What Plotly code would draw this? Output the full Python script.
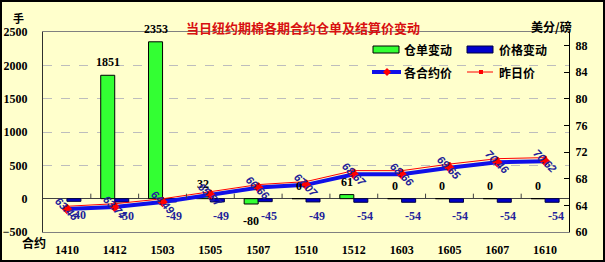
import plotly.graph_objects as go

contracts = ['1410', '1412', '1503', '1505', '1507', '1510', '1512', '1603', '1605', '1607', '1610']
warrant_change = [None, 1851, 2353, 32, -80, 0, 61, 0, 0, 0, 0]
price_change = [-40, -50, -49, -49, -45, -49, -54, -54, -54, -54, -54]
settle_price = [63.46, 63.74, 64.49, 65.57, 66.66, 67.07, 68.67, 68.66, 69.65, 70.46, 70.62]
prev_price = [63.86, 64.24, 64.98, 66.06, 67.11, 67.56, 69.21, 69.20, 70.19, 71.00, 71.16]
left_ticks = [-500, 0, 500, 1000, 1500, 2000, 2500]
right_ticks = [60, 64, 68, 72, 76, 80, 84, 88]

W, H = 605, 262
L, R, T, B = 43, 36, 32, 30
PW, PH = W - L - R, H - T - B


def px(x):
    return (x - L) / PW


def py(y):
    return (H - B - y) / PH


NUM = "Liberation Serif"
CJK = "Noto Sans CJK SC"
BG = "#FFFFCC"
GREEN = "#33FF33"
BLUE_BAR = "#0000CC"
BLUE_LINE = "#1010E8"
RED = "#FF0000"
LABEL_BLUE = "#22229A"

fig = go.Figure()
fig.add_trace(go.Bar(x=contracts, y=warrant_change, name="仓单变动", yaxis="y",
                     marker=dict(color=GREEN, line=dict(color="#000000", width=1))))
fig.add_trace(go.Bar(x=contracts, y=price_change, name="价格变动", yaxis="y",
                     marker=dict(color=BLUE_BAR, line=dict(color="#000040", width=1))))
fig.add_trace(go.Scatter(x=contracts, y=prev_price, name="昨日价", yaxis="y2", mode="lines+markers",
                         line=dict(color=RED, width=1), marker=dict(size=4, color=RED)))
fig.add_trace(go.Scatter(x=contracts, y=settle_price, name="各合约价", yaxis="y2", mode="lines+markers",
                         line=dict(color=BLUE_LINE, width=4),
                         marker=dict(symbol="diamond", size=8, color=RED)))

ann = []
# green bar labels (x given as category index)
for i, v in enumerate(warrant_change):
    if v is None:
        continue
    ann.append(dict(x=i, y=v, xref="x", yref="y", text=str(v), showarrow=False,
                    xshift=-7, yanchor="bottom" if v >= 0 else "top", yshift=4 if v >= 0 else -8,
                    font=dict(family=NUM, size=12, color="#000000", weight="bold")))
# blue bar labels
for i, v in enumerate(price_change):
    ann.append(dict(x=i, y=v, xref="x", yref="y", text=str(v), showarrow=False,
                    xshift=11, yanchor="top", yshift=-5,
                    font=dict(family=NUM, size=12, color=LABEL_BLUE, weight="bold")))
# price labels (rotated)
for i, p in enumerate(settle_price):
    ann.append(dict(x=i, y=p, xref="x", yref="y2", text=f"{p:.2f}", showarrow=False,
                    textangle=45,
                    font=dict(family="Liberation Sans", size=11, color=LABEL_BLUE,
                              weight="bold", style="italic")))

# title and axis captions
ann.append(dict(x=px(303), y=py(16), xref="paper", yref="paper", showarrow=False,
                text="当日纽约期棉各期合约仓单及结算价变动",
                font=dict(family=CJK, size=13, color="#D81010", weight="bold")))
ann.append(dict(x=px(12), y=py(9), xref="paper", yref="paper", showarrow=False, text="手",
                borderpad=0, font=dict(family=CJK, size=11, color="#000000", weight="bold")))
ann.append(dict(x=px(574), y=py(16), xref="paper", yref="paper", showarrow=False, text="美分/磅",
                font=dict(family=CJK, size=12, color="#000000", weight="bold")))
ann.append(dict(x=px(21), y=py(252), xref="paper", yref="paper", showarrow=False, text="合约",
                borderpad=0, font=dict(family=CJK, size=12, color="#000000", weight="bold")))

# manual legend texts
leg_font = dict(family=CJK, size=12, color="#000000", weight="bold")
for text, x, y in [("仓单变动", 402, 49.5), ("价格变动", 497, 49.5), ("各合约价", 402, 72), ("昨日价", 497, 72)]:
    ann.append(dict(x=px(x), y=py(y), xref="paper", yref="paper", showarrow=False, text=text,
                    xanchor="left", yanchor="middle", font=leg_font))

shapes = []
# outer border
shapes.append(dict(type="rect", xref="paper", yref="paper", x0=px(1), x1=px(604), y0=py(1), y1=py(261),
                   line=dict(color="#000000", width=2), layer="above"))
# legend symbols
shapes.append(dict(type="rect", xref="paper", yref="paper", x0=px(373), x1=px(399), y0=py(46), y1=py(53),
                   fillcolor=GREEN, line=dict(color="#000000", width=1)))
shapes.append(dict(type="rect", xref="paper", yref="paper", x0=px(467), x1=px(493), y0=py(46), y1=py(53),
                   fillcolor=BLUE_BAR, line=dict(color="#000040", width=1)))
shapes.append(dict(type="line", xref="paper", yref="paper", x0=px(372), x1=px(401), y0=py(72), y1=py(72),
                   line=dict(color=BLUE_LINE, width=4)))
d = 4
shapes.append(dict(type="path", xref="paper", yref="paper",
                   path=f"M {px(387)},{py(72 - d)} L {px(387 + d)},{py(72)} L {px(387)},{py(72 + d)} L {px(387 - d)},{py(72)} Z",
                   fillcolor=RED, line=dict(color=RED, width=0)))
shapes.append(dict(type="line", xref="paper", yref="paper", x0=px(467), x1=px(493), y0=py(72), y1=py(72),
                   line=dict(color=RED, width=1)))
shapes.append(dict(type="rect", xref="paper", yref="paper", x0=px(479), x1=px(483), y0=py(70), y1=py(74),
                   fillcolor=RED, line=dict(color=RED, width=0)))
# category tick marks on the zero line
for i in range(len(contracts) - 1):
    shapes.append(dict(type="line", xref="x", yref="y", x0=i + 0.5, x1=i + 0.5, y0=0, y1=75,
                       line=dict(color="#404040", width=1)))

fig.update_layout(
    width=W, height=H, margin=dict(l=L, r=R, t=T, b=B, autoexpand=False),
    paper_bgcolor=BG, plot_bgcolor=BG, showlegend=False,
    barmode="group", bargap=0.414, bargroupgap=0,
    annotations=ann, shapes=shapes,
    xaxis=dict(type="category", categoryorder="array", categoryarray=contracts,
               range=[-0.5, len(contracts) - 0.5], autorange=False, automargin=False,
               showline=True, mirror=True, linecolor="#808080", linewidth=1,
               ticks="", showgrid=False, ticklabelstandoff=7,
               tickfont=dict(family=NUM, size=12, color="#000000", weight="bold")),
    yaxis=dict(range=[-500, 2500], tickvals=left_ticks, showline=True, linecolor="#303030",
               automargin=False,
               showgrid=True, gridcolor="#BDBDBD", griddash="dash", gridwidth=1,
               zeroline=True, zerolinecolor="#404040", zerolinewidth=1,
               ticks="", ticklabelstandoff=12,
               tickfont=dict(family=NUM, size=12, color="#000000", weight="bold")),
    yaxis2=dict(range=[60, 90], tickvals=right_ticks, overlaying="y", side="right",
                automargin=False,
                showline=True, linecolor="#000000", showgrid=False, zeroline=False,
                ticks="inside", ticklen=5, tickcolor="#000000", ticklabelstandoff=3,
                tickfont=dict(family=NUM, size=12, color="#000000", weight="bold")),
)

fig.write_html("out.html")
